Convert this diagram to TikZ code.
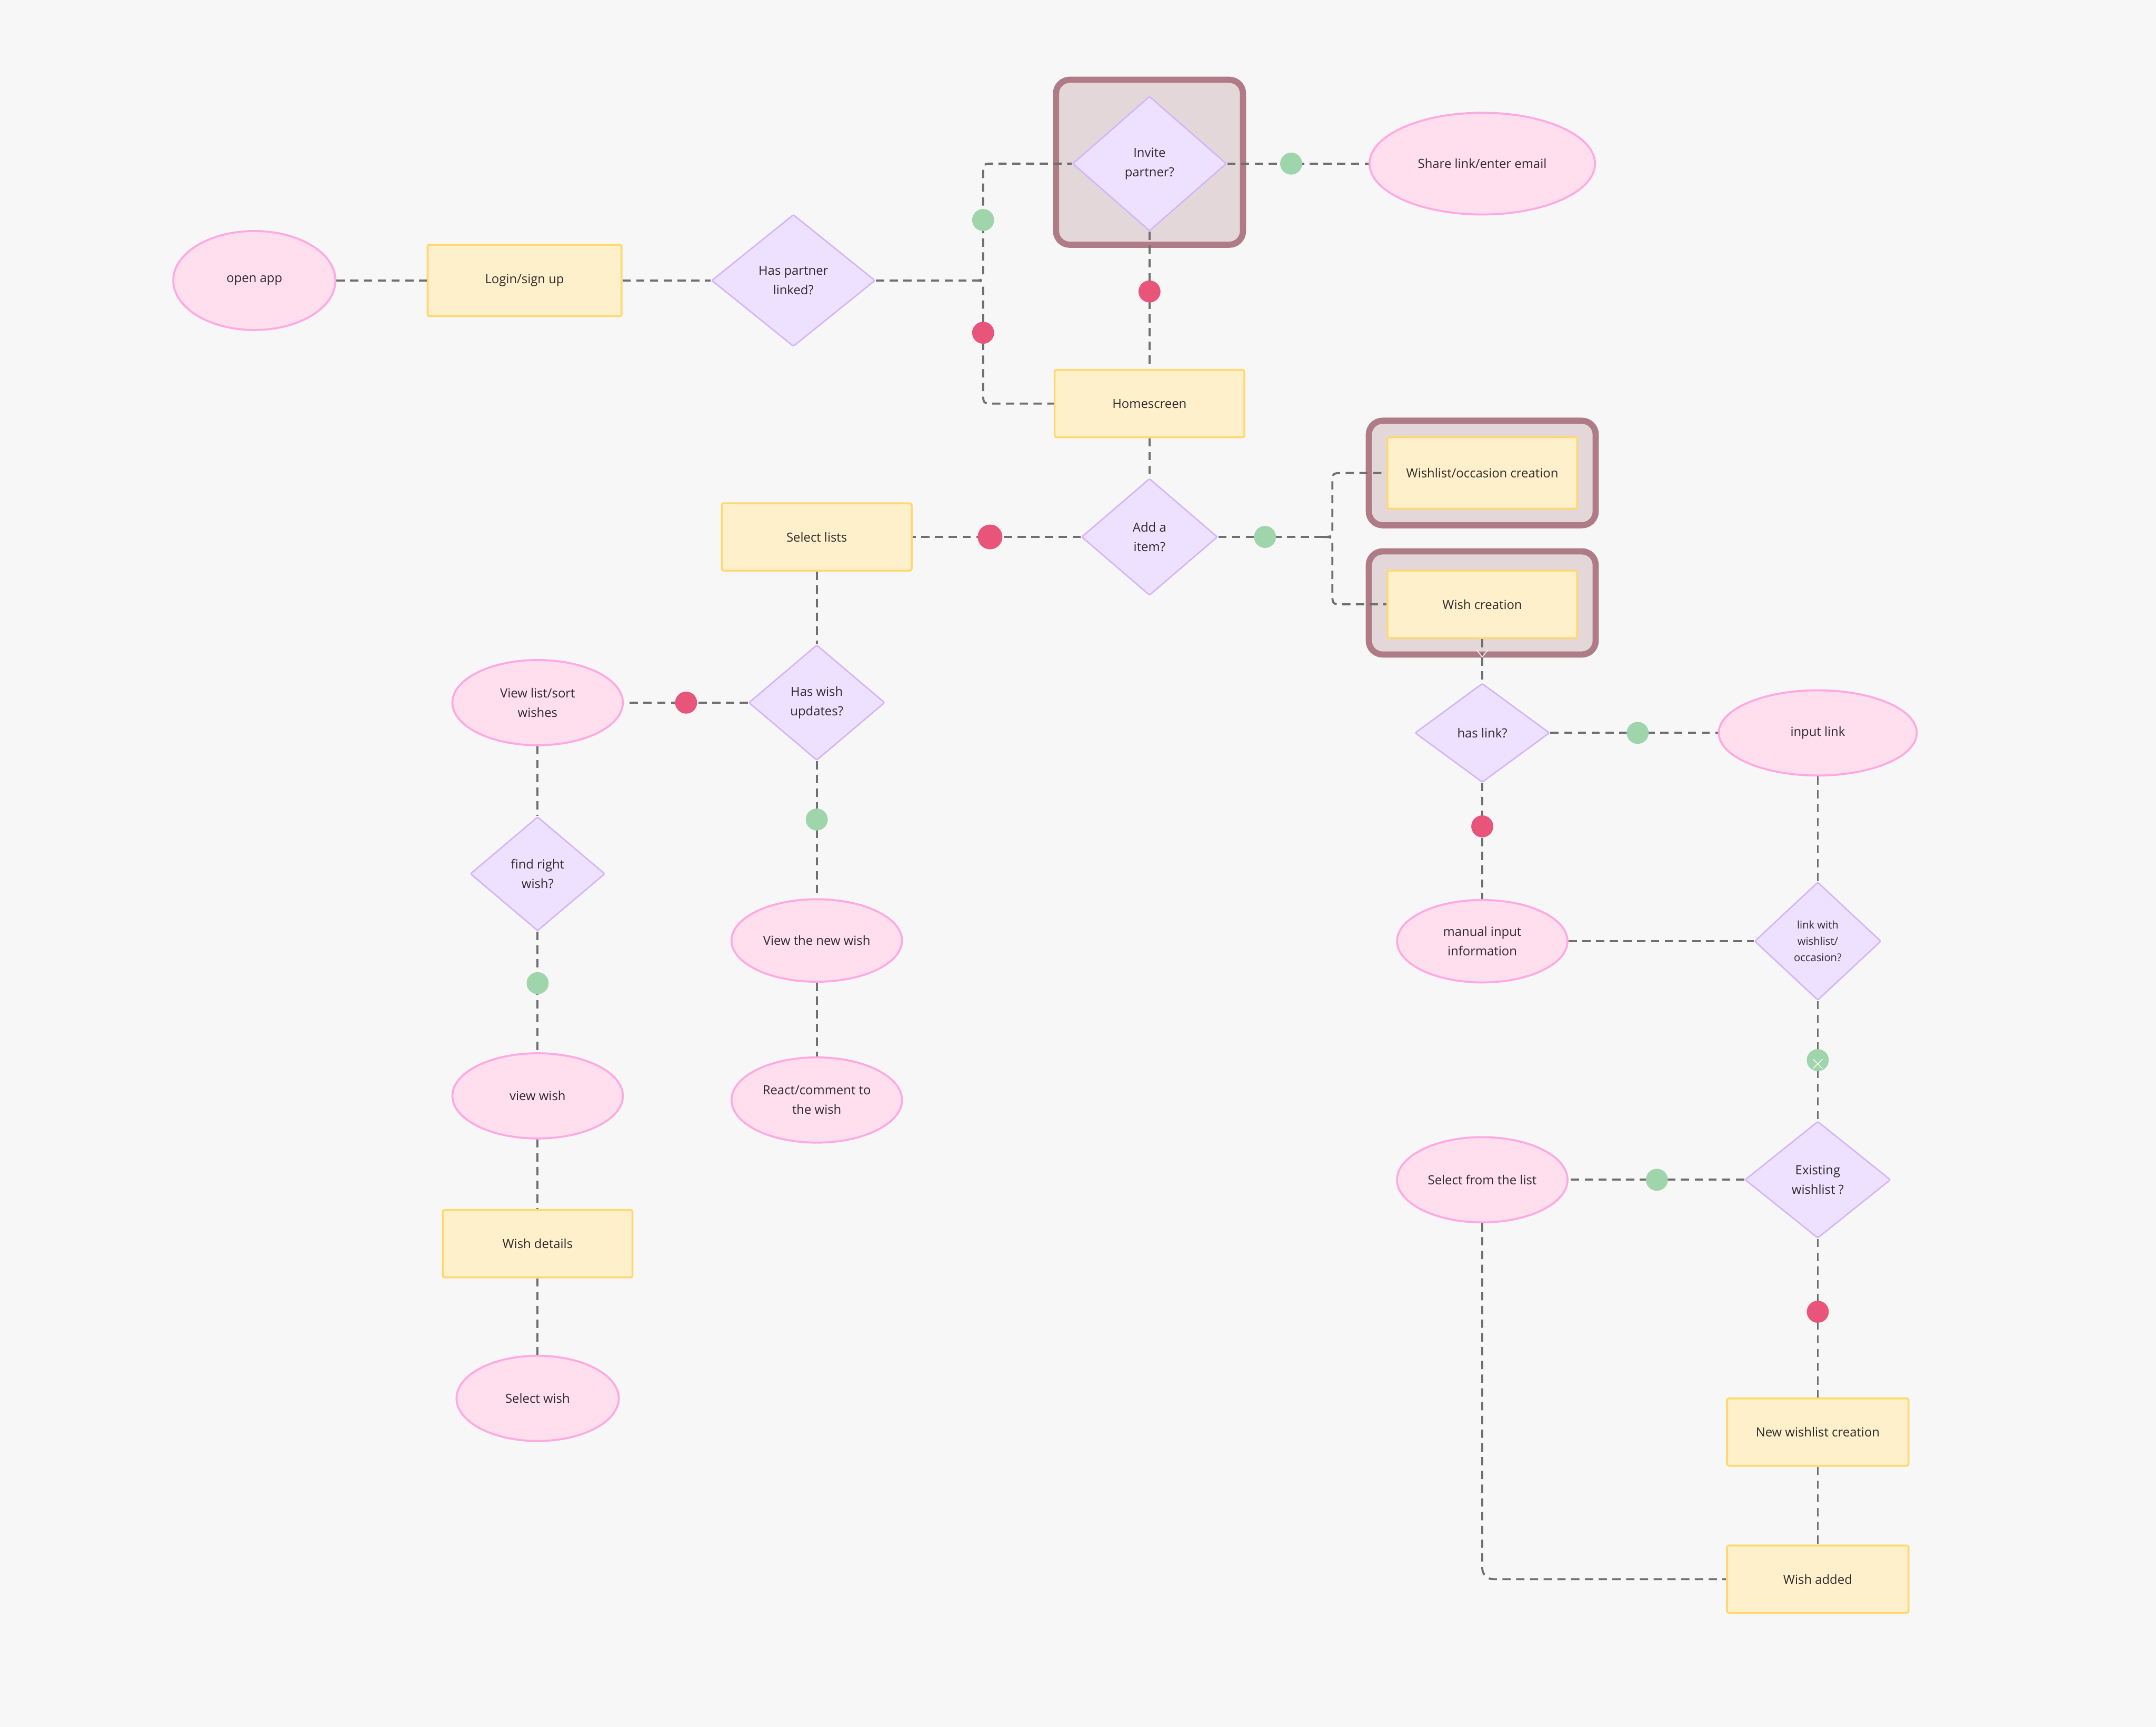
\documentclass[tikz,border=0pt]{standalone}
\usepackage{fontspec}
\setmainfont{Open Sans}
\usepackage{xcolor}
\usepackage{tikz}
\usetikzlibrary{arrows.meta,positioning,shapes.geometric,calc}
\definecolor{canvas}{RGB}{247,247,247}
\definecolor{pinkfill}{RGB}{255,222,238}
\definecolor{pinkline}{RGB}{255,168,225}
\definecolor{sandfill}{RGB}{255,240,204}
\definecolor{sandline}{RGB}{255,217,112}
\definecolor{lilacfill}{RGB}{237,225,255}
\definecolor{lilacline}{RGB}{212,181,251}
\definecolor{mauvefill}{RGB}{227,215,217}
\definecolor{mauveline}{RGB}{175,123,135}
\definecolor{yesgreen}{RGB}{158,213,171}
\definecolor{nored}{RGB}{233,85,122}
\definecolor{wire}{RGB}{111,111,111}
\definecolor{ink}{RGB}{45,42,43}

\begin{document}
\begin{tikzpicture}[
  x=0.05cm, y=-0.05cm,
  every node/.style={font=\fontsize{13}{20}\selectfont, text=ink, align=center},
  terminal/.style={ellipse, draw=pinkline, fill=pinkfill, line width=2pt, inner sep=0pt, minimum width=6.2cm, minimum height=3.1cm},
  process/.style={rectangle, draw=sandline, fill=sandfill, line width=2pt, rounded corners=2pt, minimum width=6.9cm, minimum height=2.45cm},
  decision/.style={diamond, draw=lilacline, fill=lilacfill, line width=1.5pt, rounded corners=1.5pt, inner sep=0pt},
  focus/.style={rectangle, draw=mauveline, fill=mauvefill, line width=6.4pt, rounded corners=0.5cm},
  flow/.style={draw=wire, line width=2.1pt, dash pattern=on 0.3cm off 0.2cm},
  yesdot/.style={circle, fill=yesgreen, minimum size=0.8cm, inner sep=0pt},
  nodot/.style={circle, fill=nored, minimum size=0.8cm, inner sep=0pt}
]
  % canvas (coordinates are in 1/20 cm, y downwards)
  \fill[canvas] (0,0) rectangle (1568,1256);

  % Highlight frames behind the focused steps
  \node[focus, minimum width=6.8cm, minimum height=6cm] (invitebox) at (836,118) {};
  \node[focus, minimum width=8.25cm, minimum height=3.8cm] (wlbox) at (1078,344) {};
  \node[focus, minimum width=8.25cm, minimum height=3.75cm] (wcbox) at (1078,438.5) {};

  % Entry row
  \node[terminal, minimum width=5.9cm, minimum height=3.6cm] (open) at (185,204) {open app};
  \node[process, minimum width=7.05cm, minimum height=2.6cm] (login) at (381.5,204) {Login/sign up};
  \node[decision, minimum width=5.95cm, minimum height=4.8cm] (partner) at (577,204) {Has partner\\linked?};

  % Partner invite
  \node[decision, minimum width=5.6cm, minimum height=4.9cm] (invite) at (836,119) {Invite\\partner?};
  \node[terminal, minimum width=8.2cm, minimum height=3.7cm] (share) at (1078,119) {Share link/enter email};
  \node[process] (home) at (836,293.5) {Homescreen};

  % Add item decision
  \node[decision, minimum width=4.95cm, minimum height=4.25cm] (additem) at (836,390.5) {Add a\\item?};
  \node[process] (lists) at (594,390.5) {Select lists};
  \node[process, minimum height=2.6cm] (wishlist) at (1078,344) {Wishlist/occasion creation};
  \node[process] (wish) at (1078,439.5) {Wish creation};

  % Wish creation branch
  \node[decision, minimum width=4.9cm, minimum height=3.6cm] (haslink) at (1078,533) {has link?};
  \node[terminal, minimum width=7.2cm] (inlink) at (1322,533) {input link};
  \node[terminal, minimum height=3cm] (manual) at (1078,684.5) {manual input\\information};
  \node[decision, minimum width=4.6cm, minimum height=4.3cm, font=\fontsize{11}{17}\selectfont] (linkwl) at (1322,684.5) {link with\\wishlist/\\occasion?};
  \node[decision, minimum width=5.3cm, minimum height=4.25cm] (existing) at (1322,858) {Existing\\wishlist ?};
  \node[terminal] (pick) at (1078,858) {Select from the list};
  \node[process, minimum width=6.6cm] (newwl) at (1322,1041.5) {New wishlist creation};
  \node[process, minimum width=6.6cm] (added) at (1322,1148.5) {Wish added};

  % Browsing branch
  \node[decision, minimum width=4.95cm, minimum height=4.2cm] (updates) at (594,511) {Has wish\\updates?};
  \node[terminal] (viewlist) at (391,511) {View list/sort\\wishes};
  \node[decision, minimum width=4.9cm, minimum height=4.15cm] (findwish) at (391,635.5) {find right\\wish?};
  \node[terminal] (viewwish) at (391,797) {view wish};
  \node[process] (details) at (391,904.5) {Wish details};
  \node[terminal, minimum width=5.9cm] (selwish) at (391,1017) {Select wish};
  \node[terminal, minimum height=3cm] (newwish) at (594,684) {View the new wish};
  \node[terminal] (react) at (594,800) {React/comment to\\the wish};

  % Connectors: entry and partner
  \draw[flow] (open) -- (login);
  \draw[flow] (login) -- (partner);
  \coordinate (psplit) at (708,204);
  \draw[flow] (partner.east) -- (psplit);
  \draw[flow] (psplit) .. controls (715,204) .. (715,196) -- (715,127) .. controls (715,119) .. (723,119) -- (invite.west);
  \draw[flow] (psplit) .. controls (715,204) .. (715,212) -- (715,285.5) .. controls (715,293.5) .. (723,293.5) -- (home.west);
  \draw[flow] (invite) -- (share);
  \draw[flow] (invite) -- (home);
  \draw[flow] (home) -- (additem);

  % Connectors: add item
  \draw[flow] (additem) -- (lists);
  \coordinate (asplit) at (962,390.5);
  \draw[flow] (additem.east) -- (asplit);
  \draw[flow] (asplit) .. controls (969,390.5) .. (969,382.5) -- (969,352) .. controls (969,344) .. (977,344) -- (wishlist.west);
  \draw[flow] (asplit) .. controls (969,390.5) .. (969,398.5) -- (969,431.5) .. controls (969,439.5) .. (977,439.5) -- (wish.west);
  \draw[flow, -{Straight Barb[color=white, length=0.25cm, width=0.4cm, line width=0.8pt]}] (wish) -- (wcbox.south);
  \draw[flow] (wcbox.south) -- (haslink.north);

  % Connectors: link handling
  \draw[flow] (haslink) -- (inlink);
  \draw[flow] (haslink) -- (manual);
  \draw[flow] (inlink) -- (linkwl);
  \draw[flow] (manual) -- (linkwl);
  \draw[flow] (linkwl) -- (existing);
  \draw[flow] (existing) -- (pick);
  \draw[flow] (existing) -- (newwl);
  \draw[flow] (newwl) -- (added);
  \draw[flow, rounded corners=0.4cm] (pick) |- (added);

  % Connectors: browsing
  \draw[flow] (lists) -- (updates);
  \draw[flow] (updates) -- (viewlist);
  \draw[flow] (updates) -- (newwish);
  \draw[flow] (newwish) -- (react);
  \draw[flow] (viewlist) -- (findwish);
  \draw[flow] (findwish) -- (viewwish);
  \draw[flow] (viewwish) -- (details);
  \draw[flow] (details) -- (selwish);

  % Yes / no markers
  \node[yesdot] (partneryes) at (715,160) {};
  \node[nodot] (partnerno) at (715,242) {};
  \node[yesdot] (inviteyes) at (939,119) {};
  \node[nodot] (inviteno) at (836,212) {};
  \node[nodot, minimum size=0.9cm] (addno) at (720,390.5) {};
  \node[yesdot] (addyes) at (920,390.5) {};
  \node[yesdot] (linkyes) at (1191,533) {};
  \node[nodot] (linkno) at (1078,601) {};
  \node[yesdot] (wlyes) at (1322,771) {};
  \draw[white, line width=0.8pt] ($(wlyes)+(-3.4,-0.7)$) -- ($(wlyes)+(3.4,6.1)$)
                                 ($(wlyes)+(-3.4,6.1)$) -- ($(wlyes)+(3.4,-0.7)$);
  \node[yesdot] (existyes) at (1205,858) {};
  \node[nodot] (existno) at (1322,954) {};
  \node[nodot] (updno) at (499,511) {};
  \node[yesdot] (updyes) at (594,596) {};
  \node[yesdot] (findyes) at (391,715) {};
\end{tikzpicture}
\end{document}
